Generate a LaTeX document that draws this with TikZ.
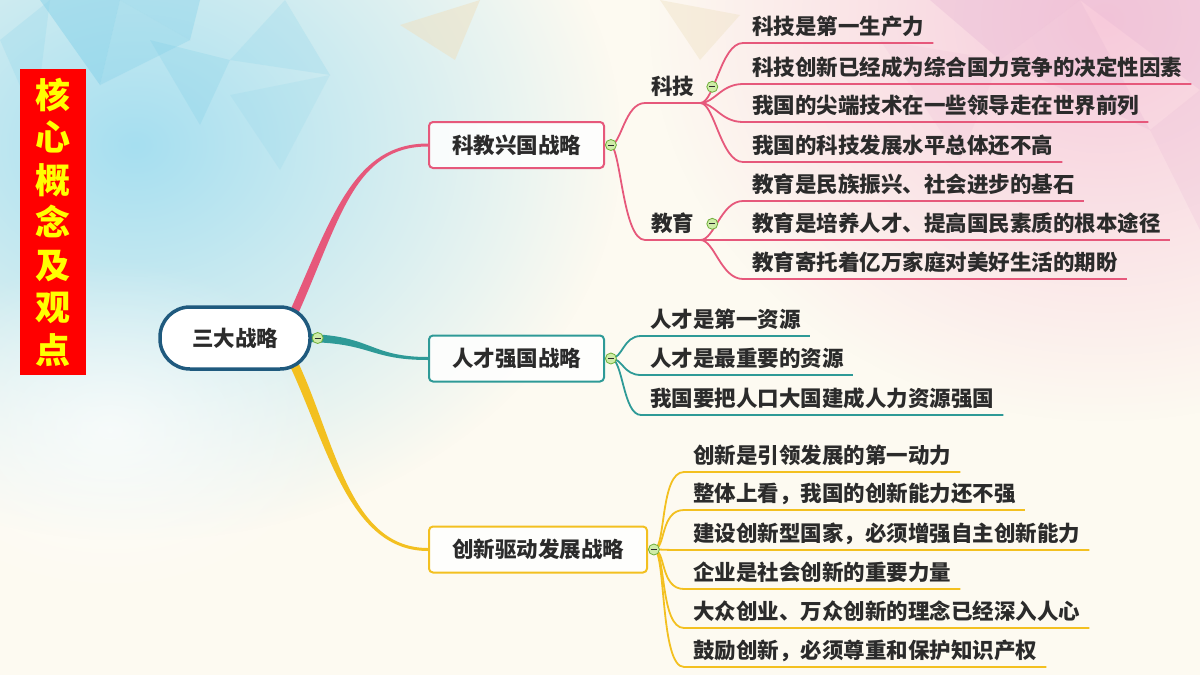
\documentclass[tikz,border=0pt]{standalone}
\usepackage{fontspec}
\setmainfont{Noto Sans CJK SC}
\usetikzlibrary{positioning,fadings}

\definecolor{pinkc}{HTML}{E6587B}
\definecolor{tealc}{HTML}{2E9A97}
\definecolor{yellowc}{HTML}{F3C020}
\definecolor{rootc}{HTML}{1F5A7E}
\definecolor{textc}{HTML}{2B2B2B}
\definecolor{foldfill}{HTML}{CFECA8}
\definecolor{foldline}{HTML}{6FAF3A}
\definecolor{creambg}{HTML}{FDFAF1}
\definecolor{skyb}{HTML}{A6DFF0}
\definecolor{pinkbg}{HTML}{F7CADB}
\definecolor{triblue}{HTML}{7FCFE8}
\definecolor{trilav}{HTML}{E6B5D3}
\definecolor{tribeige}{HTML}{EEE0C0}
\definecolor{titlered}{HTML}{FF0000}
\definecolor{titleyel}{HTML}{FFFF00}

\tikzfading[name=softglow, inner color=transparent!0, outer color=transparent!100]
\pgfdeclarelayer{bg}
\pgfdeclarelayer{back}
\pgfsetlayers{bg,back,main}

\newcommand{\bigfont}{\fontsize{21.5}{24}\selectfont\bfseries}

\tikzset{
  rootbox/.style={draw=rootc, line width=3.5pt, fill=white, rounded corners=30pt,
    minimum width=150pt, minimum height=62pt, font=\bigfont, text=textc,
    text height=18.5pt, text depth=2.5pt},
  mainbox/.style={draw=#1, line width=2pt, fill=white, fill opacity=.85, text opacity=1,
    rounded corners=4pt, minimum height=46pt, inner xsep=23pt, font=\bigfont, text=textc,
    text height=18.5pt, text depth=2.5pt, anchor=west},
  subtopic/.style={inner xsep=6pt, inner ysep=5.5pt, font=\bigfont, text=textc,
    text height=18.5pt, text depth=2.5pt, anchor=south west},
  leaf/.style={inner xsep=9pt, inner ysep=5.5pt, font=\bigfont, text=textc,
    text height=18.5pt, text depth=2.5pt, anchor=south west},
  foldmark/.style={circle, draw=foldline, fill=foldfill, line width=.8pt, minimum size=11pt,
    inner sep=0pt, path picture={\draw[line width=1pt, textc]
      ([xshift=-3pt]path picture bounding box.center) -- ([xshift=3pt]path picture bounding box.center);}},
  twig/.style={draw=#1, line width=1.8pt},
  titlebox/.style={fill=titlered, minimum width=66pt, minimum height=306pt, align=center,
    text=titleyel, font=\fontsize{35}{42.5}\selectfont\bfseries}
}

\begin{document}
\begin{tikzpicture}[x=1pt,y=-1pt]
  \useasboundingbox (0,0) rectangle (1200,675);

  % background
  \begin{pgfonlayer}{bg}
    \fill[creambg] (0,0) rectangle (1200,675);
    \fill[skyb, path fading=softglow] (-350,-250) rectangle (620,540);
    \fill[pinkbg, path fading=softglow] (650,-380) rectangle (1560,420);
    \fill[white, opacity=.7, path fading=softglow] (-120,260) rectangle (340,600);
    \fill[triblue, opacity=.45] (40,0) -- (120,0) -- (100,85) -- cycle;
    \fill[triblue, opacity=.3] (100,85) -- (120,0) -- (190,40) -- cycle;
    \fill[triblue, opacity=.35] (120,0) -- (200,0) -- (190,40) -- cycle;
    \fill[triblue, opacity=.25] (150,40) -- (230,60) -- (200,125) -- cycle;
    \fill[triblue, opacity=.2] (0,40) -- (50,0) -- (35,120) -- cycle;
    \fill[triblue, opacity=.2] (230,60) -- (285,0) -- (330,75) -- cycle;
    \fill[triblue, opacity=.15] (230,95) -- (330,75) -- (280,170) -- cycle;
    \fill[tribeige, opacity=.5] (400,25) -- (480,0) -- (455,60) -- cycle;
    \fill[tribeige, opacity=.4] (660,0) -- (740,15) -- (700,60) -- cycle;
    \fill[trilav, opacity=.35] (930,0) -- (1080,0) -- (1000,60) -- cycle;
    \fill[trilav, opacity=.3] (1080,0) -- (1200,0) -- (1200,90) -- cycle;
    \fill[trilav, opacity=.25] (1000,60) -- (1080,0) -- (1150,130) -- cycle;
    \fill[trilav, opacity=.2] (1150,130) -- (1200,90) -- (1200,230) -- cycle;
    \fill[trilav, opacity=.15] (880,40) -- (1000,60) -- (960,160) -- cycle;
  \end{pgfonlayer}

  % title
  \node[titlebox] (title) at (53,222) {核\\心\\概\\念\\及\\观\\点};

  % root and main topics
  \node[rootbox] (root) at (235,338) {三大战略};
  \node[mainbox=pinkc] (kejiao) at (428,145) {科教兴国战略};
  \node[mainbox=tealc] (rencai) at (428,358.5) {人才强国战略};
  \node[mainbox=yellowc] (chuangxin) at (428,549.5) {创新驱动发展战略};

  \node[foldmark, right=0pt of root] (rootfold) {};
  \node[foldmark, right=0pt of kejiao] (kejiaofold) {};
  \node[foldmark, right=0pt of rencai] (rencaifold) {};
  \node[foldmark, right=0pt of chuangxin] (chuangxinfold) {};

  % tapered main branches
  \begin{pgfonlayer}{back}
    \fill[pinkc] ([shift={(-21,4)}]root.north east) .. controls +(42,-95) and +(-73,0) ..
      ([shift={(0,-1.5)}]kejiao.west) -- ([shift={(0,1.5)}]kejiao.west)
      .. controls +(-73,0) and +(42,-95) .. ([shift={(-13,7)}]root.north east) -- cycle;
    \fill[tealc] ([shift={(-10,-4)}]root.east) .. controls +(70,0) and +(-60,0) ..
      ([shift={(0,-1.5)}]rencai.west) -- ([shift={(0,1.5)}]rencai.west)
      .. controls +(-60,0) and +(70,0) .. ([shift={(-10,4)}]root.east) -- cycle;
    \fill[yellowc] ([shift={(-21,-3)}]root.south east) .. controls +(37,80) and +(-78,0) ..
      ([shift={(0,1.5)}]chuangxin.west) -- ([shift={(0,-1.5)}]chuangxin.west)
      .. controls +(-78,0) and +(37,80) .. ([shift={(-13,-7)}]root.south east) -- cycle;
  \end{pgfonlayer}

  % 科教兴国
  \node[subtopic] (keji) at (645,103) {科技};
  \node[subtopic] (jiaoyu) at (645,240) {教育};
  \node[foldmark, right=6pt of keji] (kejifold) {};
  \node[foldmark, right=6pt of jiaoyu] (jiaoyufold) {};
  \begin{pgfonlayer}{back}
    \draw[twig=pinkc] (kejiaofold.center) .. controls +(10,0) and +(-20,0) .. (keji.south west) -- (keji.south east);
    \draw[twig=pinkc] (kejiaofold.center) .. controls +(10,5) and +(-22,0) .. (jiaoyu.south west) -- (jiaoyu.south east);
  \end{pgfonlayer}

  \foreach \t/\y [count=\i] in {科技是第一生产力/43, 科技创新已经成为综合国力竞争的决定性因素/84,
      我国的尖端技术在一些领导走在世界前列/122, 我国的科技发展水平总体还不高/162} {
    \node[leaf] (kj\i) at (743,\y) {\t};
    \begin{pgfonlayer}{back}
      \draw[twig=pinkc] (keji.south east) .. controls +(14,0) and +(-22,0) .. (kj\i.south west) -- (kj\i.south east);
    \end{pgfonlayer}
  }
  \foreach \t/\y [count=\i] in {教育是民族振兴、社会进步的基石/201, 教育是培养人才、提高国民素质的根本途径/240,
      教育寄托着亿万家庭对美好生活的期盼/279} {
    \node[leaf] (jy\i) at (743,\y) {\t};
    \begin{pgfonlayer}{back}
      \draw[twig=pinkc] (jiaoyu.south east) .. controls +(14,0) and +(-22,0) .. (jy\i.south west) -- (jy\i.south east);
    \end{pgfonlayer}
  }

  % 人才强国
  \foreach \t/\y [count=\i] in {人才是第一资源/336, 人才是最重要的资源/375, 我国要把人口大国建成人力资源强国/415} {
    \node[leaf] (rc\i) at (641,\y) {\t};
    \begin{pgfonlayer}{back}
      \draw[twig=tealc] (rencaifold.center) .. controls +(12,0) and +(-18,0) .. (rc\i.south west) -- (rc\i.south east);
    \end{pgfonlayer}
  }

  % 创新驱动发展
  \foreach \t/\y [count=\i] in {创新是引领发展的第一动力/472, 整体上看，我国的创新能力还不强/510,
      建设创新型国家，必须增强自主创新能力/550, 企业是社会创新的重要力量/589,
      大众创业、万众创新的理念已经深入人心/628, 鼓励创新，必须尊重和保护知识产权/667} {
    \node[leaf] (cx\i) at (684,\y) {\t};
    \begin{pgfonlayer}{back}
      \draw[twig=yellowc] (chuangxinfold.center) .. controls +(12,0) and +(-24,0) .. (cx\i.south west) -- (cx\i.south east);
    \end{pgfonlayer}
  }
\end{tikzpicture}
\end{document}
